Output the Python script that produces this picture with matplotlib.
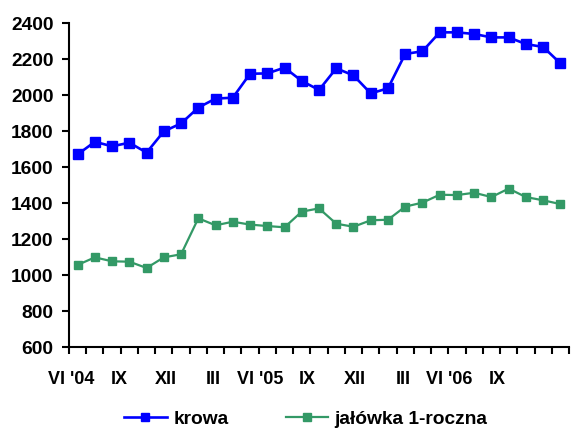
import matplotlib
matplotlib.use("Agg")
import matplotlib.pyplot as plt
import numpy as np

plt.rcParams['font.family'] = ['Liberation Sans', 'DejaVu Sans']
plt.rcParams['font.weight'] = 'bold'
plt.rcParams['font.size'] = 13

# miesiące VI '04 - X '06
krowa = [1670, 1740, 1715, 1735, 1680, 1798, 1842, 1930, 1980, 1985,
         2118, 2120, 2152, 2078, 2028, 2148, 2109, 2009, 2037, 2228,
         2243, 2348, 2348, 2339, 2320, 2320, 2283, 2267, 2176]
jalowka = [1056, 1098, 1076, 1074, 1039, 1098, 1115, 1315, 1276, 1296,
           1280, 1272, 1265, 1352, 1370, 1285, 1268, 1304, 1307, 1380,
           1402, 1446, 1444, 1457, 1433, 1480, 1433, 1415, 1394]
etykiety = ["VI '04", "IX", "XII", "III", "VI '05", "IX", "XII", "III", "VI '06", "IX"]
poz_etykiet = [-0.38, 2.41, 5.1, 7.84, 10.59, 13.3, 16.09, 18.9, 21.57, 24.35]

x = np.arange(len(krowa))

fig = plt.figure(figsize=(5.71, 4.28), dpi=100)
ax = fig.add_axes([69/571, 1-347/428, 500/571, 324/428])

ax.plot(x, krowa, color='#0000FF', lw=1.9, marker='s', ms=7.3,
        markeredgecolor='#0000FF', label='krowa', clip_on=False)
ax.plot(x, jalowka, color='#339966', lw=1.6, marker='s', ms=6.3,
        markeredgecolor='#339966', label='jałówka 1-roczna', clip_on=False)

ax.set_xlim(-0.5, len(krowa) - 0.5)
ax.set_ylim(600, 2400)
ax.set_yticks(np.arange(600, 2401, 200))

# ticki na granicach kategorii, etykiety osobno
ax.set_xticks(np.arange(-0.5, len(krowa), 1.0))
ax.set_xticklabels([])
ax.set_xticks(poz_etykiet, minor=True)
ax.set_xticklabels(etykiety, minor=True, fontweight='bold', fontsize=13)
ax.tick_params(axis='x', which='major', direction='out', length=5, width=1.5)
ax.tick_params(axis='x', which='minor', length=0, pad=17)
ax.tick_params(axis='y', direction='out', length=5, width=1.5, pad=6,
               labelsize=13.8)
for t in ax.get_yticklabels():
    t.set_fontweight('bold')

for s in ['top', 'right']:
    ax.spines[s].set_visible(False)
for s in ['left', 'bottom']:
    ax.spines[s].set_linewidth(1.5)

leg = fig.legend(loc='center', bbox_to_anchor=(306/571, 1-419/428), ncol=2,
                 frameon=False, handlelength=2.2, columnspacing=3.0,
                 handletextpad=0.35, markerscale=0.85,
                 prop={'weight': 'bold', 'size': 13.8})

fig.savefig('out.png', dpi=100)
